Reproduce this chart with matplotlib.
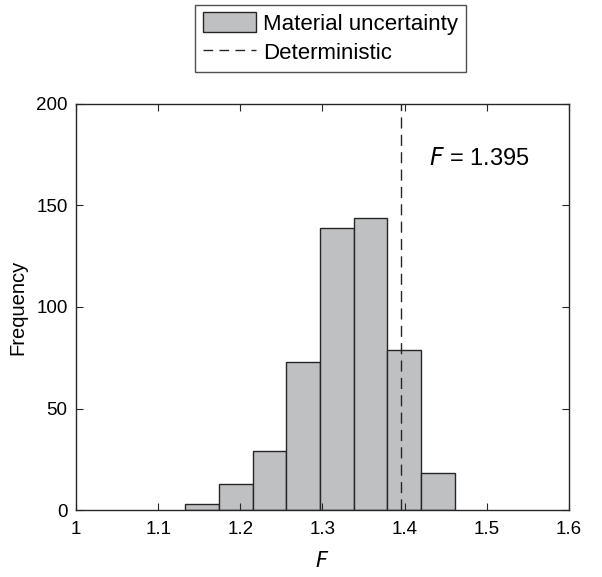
import matplotlib
matplotlib.use('Agg')
from matplotlib import pyplot as plt, patches
from matplotlib.lines import Line2D
import numpy as np

plt.rcParams['font.family'] = ['Liberation Sans', 'DejaVu Sans']

bin_edges = [1.133, 1.174, 1.215, 1.256, 1.297, 1.338, 1.379, 1.420, 1.461]
counts = [3, 13, 29, 73, 139, 144, 79, 18]
deterministic_F = 1.395
xticks = [1, 1.1, 1.2, 1.3, 1.4, 1.5, 1.6]
yticks = [0, 50, 100, 150, 200]

fig = plt.figure(figsize=(6.02, 5.77), dpi=100)
ax = fig.add_axes([0.1262, 0.1161, 0.819, 0.7037])

edges = np.array(bin_edges)
ax.bar(edges[:-1], counts, width=np.diff(edges), align='edge',
       color='#bfc0c2', edgecolor='#262626', linewidth=1.0)
ax.axvline(deterministic_F, color='#262626', linestyle=(0, (8, 4.5)), linewidth=1.0)
ax.text(1.430, 173, r'$F$ = 1.395', fontsize=17, va='center')

ax.set_xlim(1, 1.6)
ax.set_ylim(0, 200)
ax.set_xticks(xticks)
ax.set_xticklabels(['1', '1.1', '1.2', '1.3', '1.4', '1.5', '1.6'])
ax.set_yticks(yticks)
ax.tick_params(direction='in', top=True, right=True, labelsize=13.5, length=5,
               width=0.8, colors='#262626', labelcolor='black')
ax.tick_params(axis='x', pad=8)
ax.tick_params(axis='y', pad=6)
for s in ax.spines.values():
    s.set_linewidth(1.0)
    s.set_color('#262626')
ax.set_xlabel(r'$F$', fontsize=15, labelpad=9)
ax.set_ylabel('Frequency', fontsize=14.5, labelpad=6)

handles = [patches.Patch(facecolor='#bfc0c2', edgecolor='#262626', linewidth=1.0),
           Line2D([], [], color='#262626', linestyle=(0, (7, 4.5)), linewidth=1.0)]
leg = fig.legend(handles, ['Material uncertainty', 'Deterministic'],
                 loc='upper center', bbox_to_anchor=(0.549, 0.992),
                 borderaxespad=0, fontsize=16, fancybox=False, edgecolor='#262626',
                 handlelength=2.4, handleheight=1.0, handletextpad=0.3,
                 borderpad=0.35, labelspacing=0.3)
leg.get_frame().set_linewidth(1.0)

fig.savefig('out.png', dpi=100)
